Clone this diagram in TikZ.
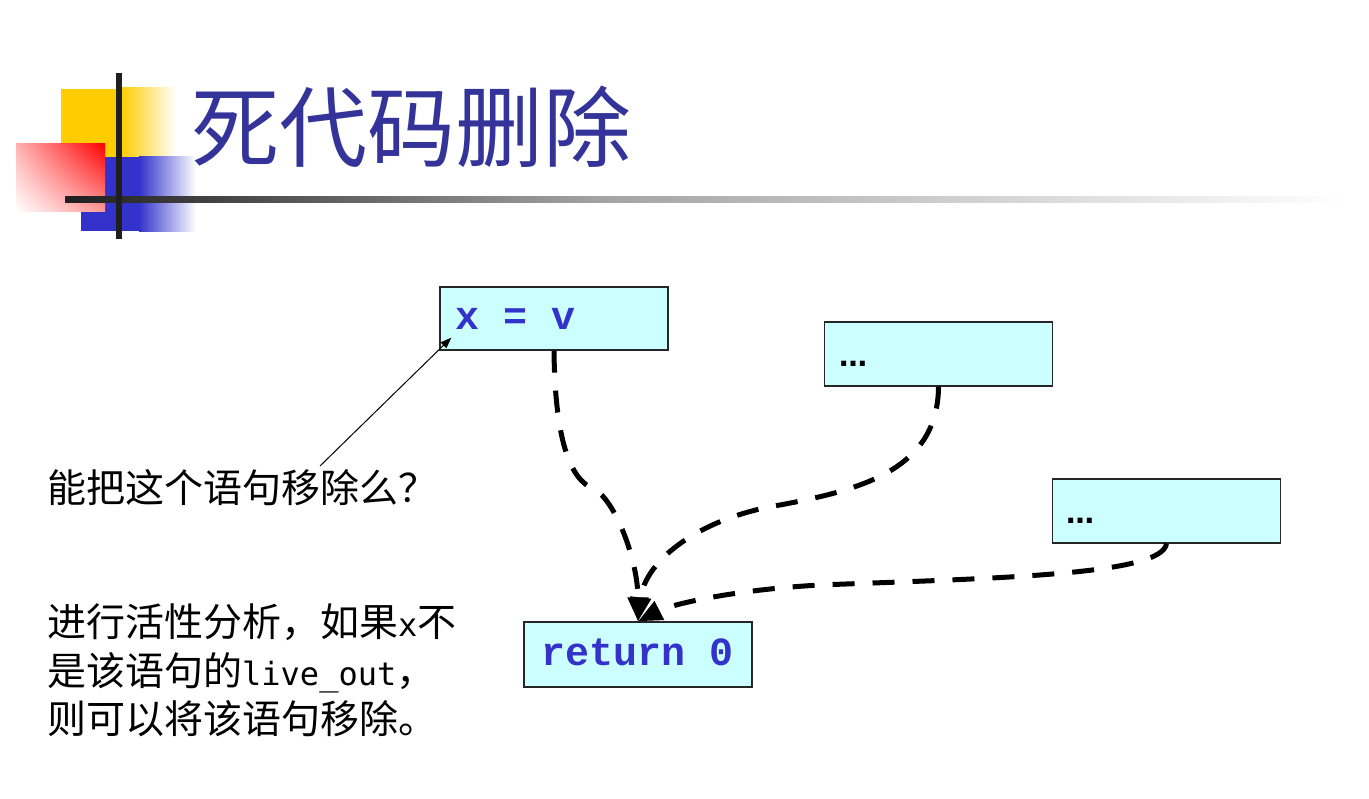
\documentclass[tikz,border=0pt]{standalone}
\usepackage{fontspec}
\setmainfont{Liberation Sans}
\newfontfamily\cjk{Noto Sans CJK SC}
\newfontfamily\codefont{Liberation Mono}
\newfontfamily\latmono{DejaVu Sans Mono}
\newfontfamily\dotsfont{DejaVu Sans}
\usetikzlibrary{arrows.meta,shadings}
\definecolor{titleblue}{HTML}{333399}
\definecolor{codeblue}{HTML}{3333CC}
\definecolor{boxfill}{HTML}{CCFFFF}
\definecolor{logoyellow}{HTML}{FFCC00}
\definecolor{logoblue}{HTML}{3333CC}
\newcommand{\lm}[1]{{\latmono\fontsize{32}{40}\selectfont #1}}
\tikzset{
  titletext/.style={font=\cjk\fontsize{88}{100}\selectfont, text=titleblue, inner sep=0pt},
  bodytext/.style={font=\cjk\fontsize{39}{47}\selectfont, text=black, inner sep=0pt, anchor=base west},
  cbox/.style={draw=black!85, line width=1.3pt, fill=boxfill, minimum width=228pt, minimum height=64pt, inner sep=0pt},
  codetext/.style={font=\codefont\bfseries\fontsize{40}{44}\selectfont, text=codeblue, inner sep=0pt, anchor=base west},
  dotstext/.style={font=\dotsfont\bfseries\fontsize{28}{30}\selectfont, inner sep=0pt, anchor=base west},
  flow/.style={line width=5pt, dash pattern=on 22pt off 18pt, -{Triangle[length=24pt,width=20pt]}},
  ask/.style={line width=1pt, -{Triangle[length=11pt,width=8pt]}}
}
\begin{document}
\begin{tikzpicture}[x=1pt,y=-1pt]
\useasboundingbox[fill=white] (0,0) rectangle (1369,799);
% logo
\fill[logoyellow] (61,89) rectangle (121.5,157);
\shade[left color=logoyellow, right color=white] (121,88) rectangle (176,157);
\fill[logoblue] (81,157) rectangle (139.5,231);
\shade[left color=logoblue, right color=white] (139,157) rectangle (196,232);
\shade[upper right=red, lower left=white, upper left=red!30, lower right=red!40] (16,144) rectangle (105,212);
\shade[left color=black!88, right color=black!36] (65,197) rectangle (600,203);
\shade[left color=black!36, right color=white] (599.5,197) rectangle (1345,203);
\fill[black!88] (116,73) rectangle (122,239);
% title
\node[titletext, anchor=base west] (title) at (191,161) {死代码删除};
% boxes
\node[cbox, minimum height=63pt] (xv) at (554,318.5) {};
\node[codetext] (xvt) at (455,330) {x = v};
\node[cbox] (b2) at (938.5,354) {};
\node[dotstext] (b2t) at (839,367) {…};
\node[cbox] (b3) at (1166.5,511) {};
\node[dotstext] (b3t) at (1066,523) {…};
\node[cbox, minimum height=65pt] (ret) at (638,654.5) {};
\node[codetext] (rett) at (541,665) {return 0};
% flow connectors
\coordinate (m1) at (594,489);
\coordinate (m2) at (780,505);
\coordinate (m3) at (820,585);
\draw[flow] (xv.south) .. controls (555,440) and (570,480) .. (m1) .. controls (615,500) and (638,560) .. (ret.north);
\draw[flow] (b2.south) .. controls (938,470) and (860,490) .. (m2) .. controls (700,518) and (645,560) .. (ret.north);
\draw[flow] (b3.south) .. controls (1162,575) and (1000,578) .. (m3) .. controls (730,590) and (670,605) .. (ret.north);
% texts
\node[bodytext] (q) at (47,503) {能把这个语句移除么？};
\node[bodytext] (l1) at (47,636) {进行活性分析，如果\lm{x}不};
\node[bodytext] (l2) at (47,685) {是该语句的\lm{live\_out}，};
\node[bodytext] (l3) at (47,733) {则可以将该语句移除。};
\coordinate (qs) at (320,466);
\draw[ask] (qs) -- ([shift={(12,-13)}]xv.south west);
\end{tikzpicture}
\end{document}
